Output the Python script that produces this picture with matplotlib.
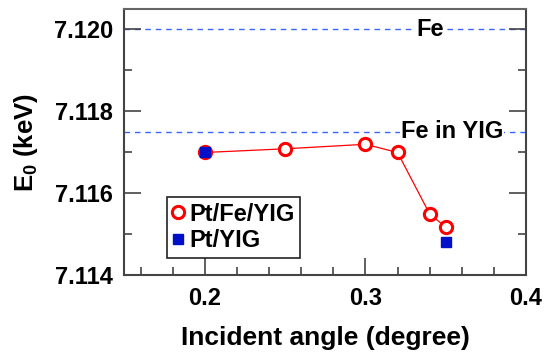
import numpy as np
import matplotlib
matplotlib.use('Agg')
import matplotlib.pyplot as plt
from matplotlib.ticker import MultipleLocator

plt.rcParams['font.family'] = ['Liberation Sans', 'DejaVu Sans']
plt.rcParams['font.weight'] = 'bold'
plt.rcParams['mathtext.default'] = 'regular'

# data
angle_fe = [0.20, 0.25, 0.30, 0.32, 0.34, 0.35]
e0_fe = [7.1170, 7.11709, 7.11720, 7.11700, 7.11550, 7.11518]
angle_pt = [0.20, 0.35]
e0_pt = [7.1170, 7.11481]
ref_lines = [7.1200, 7.1175]
ref_labels = ['Fe', 'Fe in YIG']
ref_label_x = [0.340, 0.354]

fig = plt.figure(figsize=(5.52, 3.54), dpi=100)
ax = fig.add_axes([0.2255, 0.2218, 0.953 - 0.2255, 0.9746 - 0.2218])

for yv, txt, xv in zip(ref_lines, ref_labels, ref_label_x):
    ax.axhline(yv, color='#3a66ff', lw=1.0, ls=(0, (4, 3.5)), zorder=1)
    ax.text(xv, yv, txt, fontsize=17, fontweight='bold', ha='center', va='center',
            bbox=dict(facecolor='white', edgecolor='none', pad=0.5), zorder=2)

ax.plot(angle_fe, e0_fe, color='red', lw=0.9, zorder=3)
ax.plot(angle_fe, e0_fe, ls='none', marker='o', ms=8.8, mew=2.2,
        mec='red', mfc='white', label='Pt/Fe/YIG', zorder=4)
ax.plot(angle_pt, e0_pt, ls='none', marker='s', ms=7, color='#0010c8',
        label='Pt/YIG', zorder=5)

ax.set_xlim(0.15, 0.4)
ax.set_ylim(7.114, 7.1205)
ax.xaxis.set_major_locator(MultipleLocator(0.1))
ax.xaxis.set_minor_locator(MultipleLocator(0.02))
ax.yaxis.set_major_locator(MultipleLocator(0.002))
ax.yaxis.set_minor_locator(MultipleLocator(0.001))
ax.xaxis.set_major_formatter(matplotlib.ticker.FormatStrFormatter('%.1f'))
ax.yaxis.set_major_formatter(matplotlib.ticker.FormatStrFormatter('%.3f'))

ax.tick_params(which='both', direction='in', color='#444444', width=1.2,
               labelsize=17, pad=8, right=True, top=False)
ax.tick_params(which='major', length=12)
ax.tick_params(which='minor', length=6)
for sp in ax.spines.values():
    sp.set_color('#444444')
    sp.set_linewidth(1.5)
ax.spines['top'].set_color('#666666')

ax.set_xlabel('Incident angle (degree)', fontsize=19, fontweight='bold', labelpad=12)
ax.set_ylabel('E$_0$ (keV)', fontsize=18.5, fontweight='bold', labelpad=10)

leg = ax.legend(loc='lower left', bbox_to_anchor=(0.105, 0.065), fontsize=17,
                frameon=True, fancybox=False, framealpha=1, edgecolor='#222222',
                handlelength=0.5, handletextpad=0.2, borderpad=0.25,
                labelspacing=0.15, borderaxespad=0)
leg.get_frame().set_linewidth(1.2)
for t in leg.get_texts():
    t.set_fontweight('bold')

fig.savefig('out.png', dpi=100)
